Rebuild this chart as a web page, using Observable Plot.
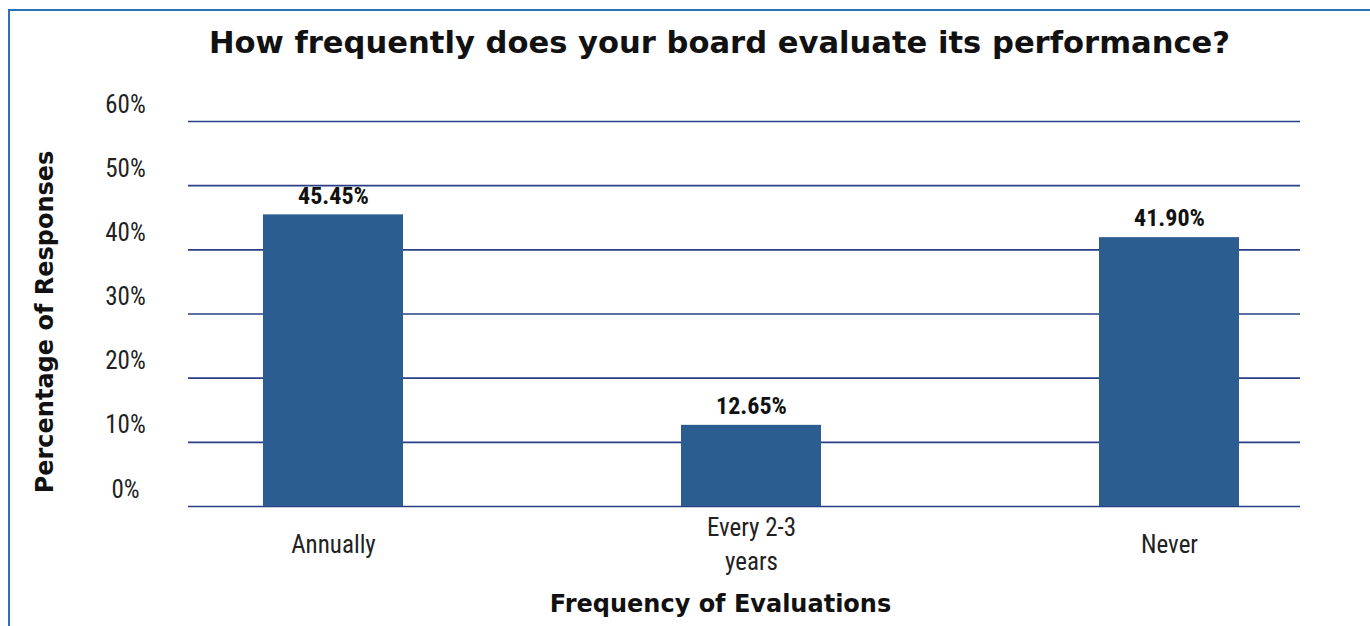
<!DOCTYPE html>
<html><head><meta charset="utf-8">
<script src="https://cdn.jsdelivr.net/npm/d3@7"></script>
<script src="https://cdn.jsdelivr.net/npm/@observablehq/plot@0.6"></script>
<style>
body{margin:0;background:#fff;}
#wrap{position:relative;width:1370px;height:626px;overflow:hidden;background:#fff;}
#border{position:absolute;left:8px;top:9px;width:1400px;height:640px;border-left:2px solid #2a72b8;border-top:2px solid #2a72b8;}
#chart{position:absolute;left:0;top:0;}
</style></head><body><div id="wrap"><div id="border"></div><div id="chart"></div></div>
<script>
const categories = ["Annually", "Every 2-3 years", "Never"];
const values = [45.45, 12.65, 41.90];
const valueLabels = ["45.45%", "12.65%", "41.90%"];
const yTicks = [0, 10, 20, 30, 40, 50, 60];
const titleText = "How frequently does your board evaluate its performance?";
const yLabel = "Percentage of Responses";
const xLabel = "Frequency of Evaluations";

const data = categories.map((c, i) => ({cat: c, v: values[i], label: valueLabels[i]}));
const narrow = "'Roboto Condensed', 'Liberation Sans Narrow', 'Arial Narrow', Roboto, sans-serif";
const heavy = "'DejaVu Sans', 'Liberation Sans', Arial, sans-serif";

const chart = Plot.plot({
  width: 1370,
  height: 626,
  marginTop: 121,
  marginBottom: 120,
  marginLeft: 188,
  marginRight: 70,
  style: {background: "transparent", color: "#111", fontFamily: narrow},
  x: {domain: categories, range: [195, 1307], paddingInner: 0.665, paddingOuter: 0.16},
  y: {domain: [0, 60]},
  marks: [
    Plot.ruleY(yTicks, {stroke: "#283f86", strokeWidth: 1.6}),
    Plot.barY(data, {x: "cat", y: "v", fill: "#2b5d91"}),
    Plot.text(data, {x: "cat", y: "v", text: "label", dy: -19, fontSize: 24, fontWeight: "bold", fontFamily: narrow, fill: "#111"}),
    Plot.axisY({ticks: yTicks, tickSize: 0, tickPadding: 63, textAnchor: "middle", dy: -17, fontSize: 25, fontFamily: narrow, tickFormat: d => d + "%", label: null, fill: "#222"}),
    Plot.axisX({tickSize: 0, tickPadding: 0, dy: 36, lineAnchor: "middle", lineHeight: 1.36, fontSize: 25, fontFamily: narrow, tickFormat: d => d === "Every 2-3 years" ? "Every 2-3\nyears" : d, label: null, fill: "#222"}),
    Plot.text([yLabel], {frameAnchor: "left", textAnchor: "middle", dx: -143, dy: 8, rotate: -90, fontSize: 24, fontWeight: "bold", fontFamily: heavy, fill: "#111"}),
    Plot.text([xLabel], {frameAnchor: "bottom", dx: -24, dy: 105, fontSize: 24, fontWeight: "bold", fontFamily: heavy, fill: "#111"}),
    Plot.text([titleText], {frameAnchor: "top", dx: -25, dy: -90, fontSize: 30.6, fontWeight: "bold", fontFamily: heavy, fill: "#111"})
  ]
});
document.getElementById("chart").appendChild(chart);
</script>
</body></html>
